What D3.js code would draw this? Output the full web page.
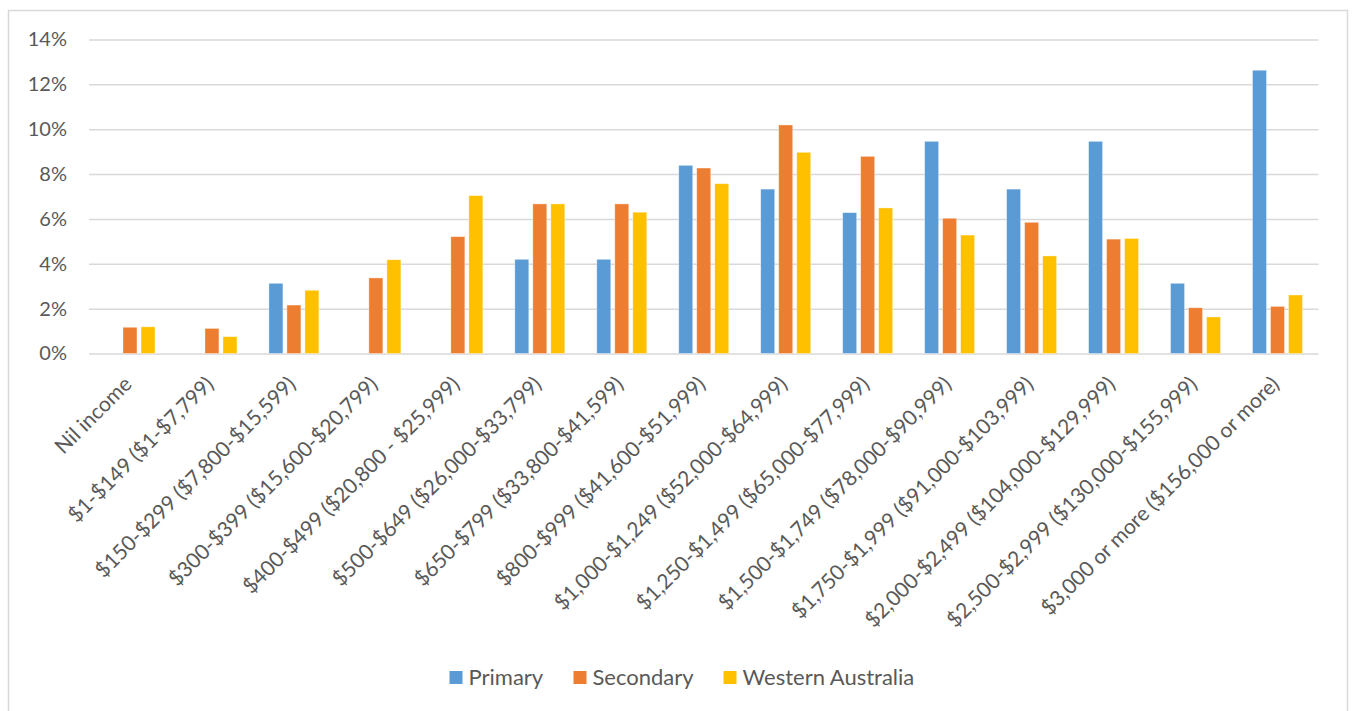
<!DOCTYPE html>
<html>
<head>
<meta charset="utf-8">
<script src="https://cdn.jsdelivr.net/npm/d3@7"></script>
<style>
  html, body { margin: 0; padding: 0; background: #ffffff; }
  svg { display: block; }
  text { font-family: Lato, "Open Sans", sans-serif; fill: #595959; }
</style>
</head>
<body>
<svg id="chart" width="1354" height="711"></svg>
<script>
// Weekly (annual) personal income bands
const categories = [
  "Nil income",
  "$1-$149 ($1-$7,799)",
  "$150-$299 ($7,800-$15,599)",
  "$300-$399 ($15,600-$20,799)",
  "$400-$499 ($20,800 - $25,999)",
  "$500-$649 ($26,000-$33,799)",
  "$650-$799 ($33,800-$41,599)",
  "$800-$999 ($41,600-$51,999)",
  "$1,000-$1,249 ($52,000-$64,999)",
  "$1,250-$1,499 ($65,000-$77,999)",
  "$1,500-$1,749 ($78,000-$90,999)",
  "$1,750-$1,999 ($91,000-$103,999)",
  "$2,000-$2,499 ($104,000-$129,999)",
  "$2,500-$2,999 ($130,000-$155,999)",
  "$3,000 or more ($156,000 or more)"
];

const seriesNames = ["Primary", "Secondary", "Western Australia"];

// Share of people in each band, percent
const primary   = [0, 0, 3.13, 0, 0, 4.2, 4.2, 8.39, 7.33, 6.28, 9.46, 7.33, 9.46, 3.13, 12.63];
const secondary = [1.17, 1.12, 2.16, 3.37, 5.21, 6.67, 6.67, 8.27, 10.19, 8.79, 6.03, 5.85, 5.1, 2.04, 2.1];
const western   = [1.19, 0.75, 2.82, 4.18, 7.04, 6.67, 6.3, 7.57, 8.97, 6.49, 5.28, 4.35, 5.13, 1.63, 2.61];

const yTicks = [0, 2, 4, 6, 8, 10, 12, 14];
const colors = ["#5B9BD5", "#ED7D31", "#FFC000"];

const seriesValues = [primary, secondary, western];

const svg = d3.select("#chart");

// outer chart frame
svg.append("rect")
  .attr("x", 8.5).attr("y", 10.5)
  .attr("width", 1339).attr("height", 710)
  .attr("fill", "none").attr("stroke", "#d9d9d9").attr("stroke-width", 1.5);

const plot = { left: 89, right: 1318.5, top: 39.5, bottom: 353.5 };

const x0 = d3.scaleBand()
  .domain(categories)
  .range([plot.left, plot.right])
  .padding(0);

const bw = x0.bandwidth();
const x1 = d3.scaleBand()
  .domain(seriesNames)
  .range([bw / 2 - 25, bw / 2 + 25])
  .paddingInner(4 / 18)
  .paddingOuter(0);

const y = d3.scaleLinear().domain([0, 14]).range([plot.bottom, plot.top]);

// horizontal gridlines and y labels
const yAxis = d3.axisLeft(y)
  .tickValues(yTicks)
  .tickSize(-(plot.right - plot.left))
  .tickPadding(22)
  .tickFormat(d => d + "%");

const gy = svg.append("g")
  .attr("transform", `translate(${plot.left},0)`)
  .call(yAxis);
gy.select(".domain").remove();
gy.selectAll(".tick line").attr("stroke", "#d9d9d9").attr("stroke-width", 1.5);
gy.selectAll(".tick text")
  .attr("font-size", 20)
  .attr("fill", "#595959")
  .style("font-family", "Lato, 'Open Sans', sans-serif");

// bars
const groups = svg.append("g").selectAll("g")
  .data(categories)
  .join("g")
  .attr("transform", d => `translate(${x0(d)},0)`);

groups.selectAll("rect")
  .data((c, i) => seriesNames.map((s, k) => ({ s, k, v: seriesValues[k][i] })))
  .join("rect")
  .filter(d => d.v > 0)
  .attr("x", d => x1(d.s))
  .attr("y", d => y(d.v))
  .attr("width", x1.bandwidth())
  .attr("height", d => y(0) - y(d.v))
  .attr("fill", d => colors[d.k])
  .attr("stroke", "#ffffff")
  .attr("stroke-opacity", 0.5)
  .attr("stroke-width", 0.75);

// x axis labels, rotated
const xAxis = d3.axisBottom(x0).tickSize(0).tickPadding(0);
const gx = svg.append("g")
  .attr("transform", `translate(0,${plot.bottom})`)
  .call(xAxis);
gx.select(".domain").remove();
gx.selectAll(".tick text")
  .attr("font-size", 21)
  .attr("fill", "#595959")
  .style("font-family", "Lato, 'Open Sans', sans-serif")
  .attr("text-anchor", "end")
  .attr("dy", null)
  .attr("y", 0)
  .attr("transform", "translate(3,32) rotate(-45)");

// legend
const legendX = [449.5, 573.5, 723.5];
const legend = svg.append("g");
seriesNames.forEach((s, k) => {
  legend.append("rect")
    .attr("x", legendX[k]).attr("y", 671)
    .attr("width", 13).attr("height", 13)
    .attr("fill", colors[k]);
  legend.append("text")
    .attr("x", legendX[k] + 19).attr("y", 685)
    .attr("font-size", 22)
    .text(s);
});
</script>
</body>
</html>
